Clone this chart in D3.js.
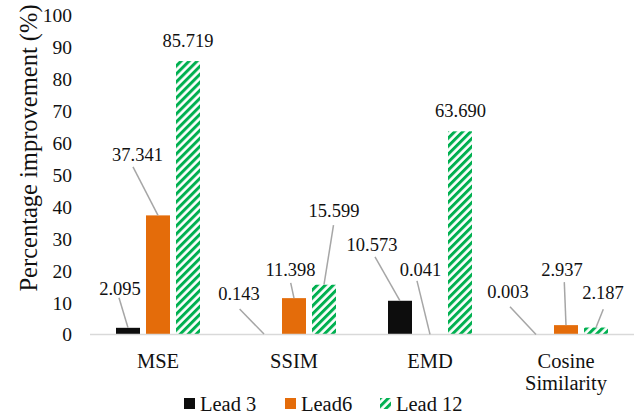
<!DOCTYPE html>
<html>
<head>
<meta charset="utf-8">
<script src="https://cdn.jsdelivr.net/npm/d3@7"></script>
<style>
  html, body { margin: 0; padding: 0; background: #fff; }
  svg, svg text { font-family: "Liberation Serif", "Times New Roman", Times, serif; }
</style>
</head>
<body>
<svg id="chart" width="644" height="416"></svg>
<script>
// Metric categories (the last one wraps onto two lines)
const categories = ["MSE", "SSIM", "EMD", "Cosine Similarity"];
const series = ["Lead 3", "Lead6", "Lead 12"];

// Percentage improvement per series, one entry per category
const lead3 = [2.095, 0.143, 10.573, 0.003];
const lead6 = [37.341, 11.398, 0.041, 2.937];
const lead12 = [85.719, 15.599, 63.690, 2.187];

const yTicks = [0, 10, 20, 30, 40, 50, 60, 70, 80, 90, 100];

const values = [lead3, lead6, lead12];
const colors = ["#0d0d0d", "#e46c0a", "#00b050"];
const SERIF = "'Liberation Serif', 'Times New Roman', Times, serif";

// Data-label placement: offset from bar centre / bar top, and leader start relative to label
// [dx, dy, leaderDx, leaderDy] ; leader null = no leader line
const labelLayout = [
  [[-8, -39, -1, 9], [-25, -41, 0.6, 16], [-28, -56, 3, 12], [-28, -42.5, 2, 14.7]],
  [[-20.5, -60.5, -4.5, 12], [-3.5, -29, 0.2, 13.7], [-9.5, -64.5, -3.5, 11], [-4, -56, 2.3, 13]],
  [[0, -21, null, null], [10, -74.7, -0.5, 15], [0.5, -21.3, null, null], [7, -34.5, 0.3, 16.3]]
];

const svg = d3.select("#chart").attr("font-family", SERIF);

const x0 = d3.scaleBand().domain(categories).range([90, 634]).paddingInner(0).paddingOuter(0);
const groupW = 84;
const x1 = d3.scaleBand().domain(series)
  .range([(x0.bandwidth() - groupW) / 2, (x0.bandwidth() + groupW) / 2])
  .paddingInner(0.2).paddingOuter(0);
const y = d3.scaleLinear().domain([0, 100]).range([334.5, 15.5]);

// Hatch pattern for the Lead 12 series
const defs = svg.append("defs");
const pat = defs.append("pattern")
  .attr("id", "hatch")
  .attr("patternUnits", "userSpaceOnUse")
  .attr("width", 5.66).attr("height", 5.66)
  .attr("patternTransform", "rotate(45)");
pat.append("rect").attr("width", 5.66).attr("height", 5.66).attr("fill", "#fff");
pat.append("rect").attr("width", 3).attr("height", 5.66).attr("fill", colors[2]);

const fills = [colors[0], colors[1], "url(#hatch)"];

// Y axis (labels only, no line or ticks)
const yAxis = d3.axisLeft(y).tickValues(yTicks).tickSize(0).tickPadding(0);
const gy = svg.append("g").attr("transform", "translate(72,0)").call(yAxis)
  .attr("font-family", SERIF).attr("font-size", 19.5);
gy.select(".domain").remove();
gy.selectAll("text")
  .attr("font-family", SERIF)
  .attr("font-size", 19.5)
  .attr("fill", "#111")
  .attr("dy", "0.33em");

// Y axis title
svg.append("text")
  .attr("transform", "translate(28,148) rotate(-90)")
  .attr("text-anchor", "middle")
  .attr("dy", "0.35em")
  .attr("font-family", SERIF)
  .attr("font-size", 24.5)
  .attr("fill", "#111")
  .text("Percentage improvement (%)");

// Bars
series.forEach((s, si) => {
  svg.append("g").selectAll("rect")
    .data(values[si])
    .join("rect")
    .attr("x", (d, i) => x0(categories[i]) + x1(s))
    .attr("y", d => y(d))
    .attr("width", x1.bandwidth())
    .attr("height", d => y(0) - y(d))
    .attr("fill", fills[si]);
});

// Category baseline
svg.append("line")
  .attr("x1", x0.range()[0]).attr("x2", x0.range()[1])
  .attr("y1", y(0)).attr("y2", y(0))
  .attr("stroke", "#d9d9d9").attr("stroke-width", 1.5);

// Category labels
const xAxis = d3.axisBottom(x0).tickSize(0).tickPadding(0);
const gx = svg.append("g").attr("transform", `translate(0,${y(0)})`).call(xAxis)
  .attr("font-family", SERIF).attr("font-size", 20.5);
gx.select(".domain").remove();
gx.selectAll("text").remove();
gx.selectAll(".tick").each(function (d) {
  const words = d === "Cosine Similarity" ? ["Cosine", "Similarity"] : [d];
  const t = d3.select(this).append("text")
    .attr("text-anchor", "middle")
    .attr("font-family", SERIF)
    .attr("font-size", 20.5)
    .attr("fill", "#111");
  words.forEach((w, k) => {
    t.append("tspan").attr("x", 0).attr("y", 33.5 + k * 22.3).text(w);
  });
});

// Data labels with leader lines
series.forEach((s, si) => {
  values[si].forEach((v, ci) => {
    const [dx, dy, lx, ly] = labelLayout[si][ci];
    const cx = x0(categories[ci]) + x1(s) + x1.bandwidth() / 2;
    const ty = y(v);
    const lxp = cx + dx, lyp = ty + dy;
    if (lx !== null) {
      svg.append("line")
        .attr("x1", lxp + lx).attr("y1", lyp + ly)
        .attr("x2", cx).attr("y2", ty)
        .attr("stroke", "#a6a6a6").attr("stroke-width", 1.5);
    }
    svg.append("text")
      .attr("x", lxp).attr("y", lyp)
      .attr("dy", "0.35em")
      .attr("text-anchor", "middle")
      .attr("font-family", SERIF)
      .attr("font-size", 18.5)
      .attr("fill", "#111")
      .text(v.toFixed(3));
  });
});

// Legend
const legendX = [184, 285, 380];
const lg = svg.append("g");
series.forEach((s, si) => {
  lg.append("rect")
    .attr("x", legendX[si]).attr("y", 398)
    .attr("width", 11).attr("height", 11)
    .attr("fill", fills[si]);
  lg.append("text")
    .attr("x", legendX[si] + 16).attr("y", 403.5)
    .attr("dy", "0.35em")
    .attr("font-family", SERIF)
    .attr("font-size", 20.5)
    .attr("fill", "#111")
    .text(s);
});
</script>
</body>
</html>
